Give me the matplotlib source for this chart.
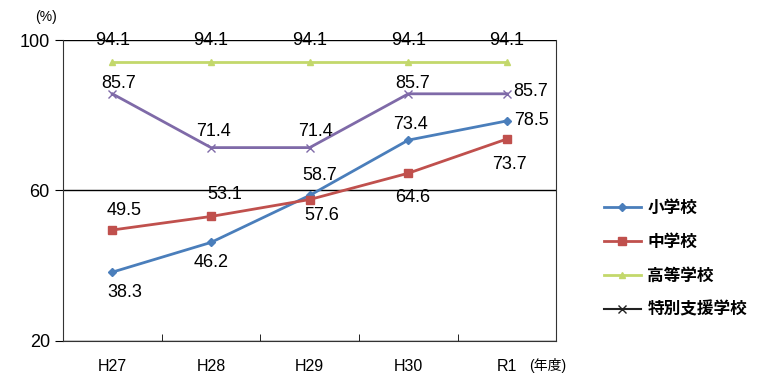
import matplotlib.pyplot as plt
from matplotlib.lines import Line2D

plt.rcParams['font.family'] = ['Liberation Sans', 'Noto Sans CJK JP']

years = ["H27", "H28", "H29", "H30", "R1"]
shogakko = [38.3, 46.2, 58.7, 73.4, 78.5]
chugakko = [49.5, 53.1, 57.6, 64.6, 73.7]
koto = [94.1, 94.1, 94.1, 94.1, 94.1]
tokubetsu = [85.7, 71.4, 71.4, 85.7, 85.7]
names = ["小学校", "中学校", "高等学校", "特別支援学校"]

# label offsets in pixels (dx, dy) for each point
off_sho = [(12, -20), (0, -20), (10, 20), (2, 16), (24, 0)]
off_chu = [(12, 20), (14, 22), (12, -16), (4, -24), (2, -26)]
off_koto = [(0, 22)] * 5
off_toku = [(6, 10), (2, 16), (6, 16), (4, 10), (24, 2)]

fig = plt.figure(figsize=(7.59, 3.81), dpi=100)
ax = fig.add_axes([0.083, 0.105, 0.650, 0.790])

x = list(range(len(years)))
series = [
    (shogakko, "#4a7ebb", "D", 4, off_sho),
    (chugakko, "#c0504d", "s", 6, off_chu),
    (koto, "#c3d86b", "^", 5, off_koto),
    (tokubetsu, "#7f6aa8", "x", 6, off_toku),
]
for vals, col, mk, ms, offs in series:
    ax.plot(x, vals, color=col, lw=2, marker=mk, markersize=ms, zorder=3)
    for xi, v, (dx, dy) in zip(x, vals, offs):
        ax.annotate(f"{v}", (xi, v), xytext=(dx, dy), textcoords="offset pixels",
                    ha="center", va="center", fontsize=13, color="black", zorder=4)

ax.set_xlim(-0.5, 4.5)
ax.set_ylim(20, 100)
ax.set_yticks([20, 60, 100])
ax.set_xticks(x)
ax.set_xticklabels(years, fontsize=11.5)
ax.set_xticks([i - 0.5 for i in range(6)], minor=True)
ax.tick_params(axis="x", which="major", length=0, pad=13)
ax.tick_params(axis="x", which="minor", length=5, direction="in")
ax.tick_params(axis="y", labelsize=13, length=6)
ax.grid(axis="y", color="black", lw=1)
for s in ax.spines.values():
    s.set_color("#333333")
ax.spines["top"].set_visible(False)

fig.text(0.060, 0.955, "(%)", fontsize=10, ha="center", va="center")
fig.text(0.722, 0.04, "(年度)", fontsize=10, ha="center", va="center")

handles = [
    Line2D([], [], color="#4a7ebb", lw=2, marker="D", markersize=4),
    Line2D([], [], color="#c0504d", lw=2, marker="s", markersize=6),
    Line2D([], [], color="#c3d86b", lw=2, marker="^", markersize=5),
    Line2D([], [], color="#222222", lw=1.5, marker="x", markersize=6),
]
fig.legend(handles, names, loc="center left", bbox_to_anchor=(0.776, 0.32),
           frameon=False, handlelength=2.2, labelspacing=0.95, handletextpad=0.4,
           prop={"family": ["Noto Sans CJK JP"], "size": 12, "weight": "bold"})

fig.savefig("out.png", dpi=100)
